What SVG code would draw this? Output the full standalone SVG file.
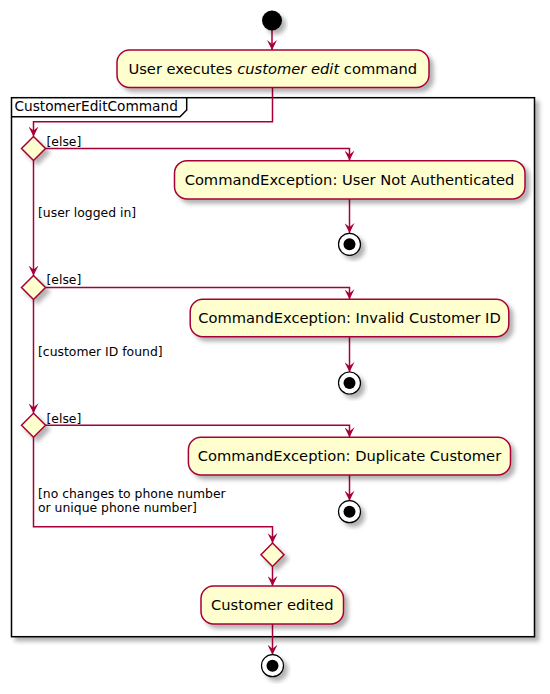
<svg xmlns="http://www.w3.org/2000/svg" width="550" height="694" viewBox="0 0 550 694">
<style>
.node{fill:#FEFECE;stroke:#A80036;stroke-width:1.5}
.dia{fill:#FEFECE;stroke:#A80036;stroke-width:1.5}
.bt{font-family:"DejaVu Sans",sans-serif;font-size:14.7px;fill:#000;text-anchor:middle}
.lb{font-family:"DejaVu Sans",sans-serif;font-size:12.4px;fill:#000}
.fl{font-family:"DejaVu Sans",sans-serif;font-size:13.7px;fill:#000}
.cn{fill:none;stroke:#A80036;stroke-width:1.5;marker-end:url(#arr)}
.stopo{fill:#fff;stroke:#000;stroke-width:1.2}
</style>
<defs>
<filter id="sh" x="-20%" y="-20%" width="150%" height="150%">
<feGaussianBlur in="SourceAlpha" stdDeviation="2"/>
<feOffset dx="4" dy="4" result="o"/>
<feFlood flood-color="#000" flood-opacity="0.3"/>
<feComposite in2="o" operator="in"/>
<feMerge><feMergeNode/><feMergeNode in="SourceGraphic"/></feMerge>
</filter>
<marker id="arr" viewBox="0 0 10 10" refX="10" refY="5" markerWidth="10" markerHeight="10" markerUnits="userSpaceOnUse" orient="auto">
<path d="M0,0 L10,5 L0,10 L4,5 Z" fill="#A80036"/>
</marker>
</defs>
<rect width="550" height="694" fill="#fff"/>
<g id="frame">
<rect x="11.5" y="97.7" width="523" height="539" fill="#fff" stroke="#000" stroke-width="1.5" filter="url(#sh)"/>
<path d="M11.5,116.7 L180,116.7 L186.7,110 L186.7,97.7" fill="none" stroke="#000" stroke-width="1.5"/>
<text class="fl" x="14.5" y="111">CustomerEditCommand</text>
</g>
<g id="connectors">
<path class="cn" d="M272,30 L272,50"/>
<path class="cn" d="M272.5,87.5 L272.5,121.7 L33.5,121.7 L33.5,136.5"/>
<path class="cn" d="M45.5,148.5 L349.5,148.5 L349.5,160.5"/>
<path class="cn" d="M349.5,199 L349.5,233"/>
<path class="cn" d="M33.5,160.5 L33.5,275.5"/>
<path class="cn" d="M45.5,287.5 L349.5,287.5 L349.5,299.3"/>
<path class="cn" d="M349.5,336.7 L349.5,372"/>
<path class="cn" d="M33.5,299.5 L33.5,413.3"/>
<path class="cn" d="M45.5,425.3 L349.5,425.3 L349.5,437.3"/>
<path class="cn" d="M349.5,475 L349.5,500.7"/>
<path class="cn" d="M33.5,437.3 L33.5,526.7 L272.5,526.7 L272.5,543"/>
<path class="cn" d="M272.5,566.5 L272.5,586"/>
<path class="cn" d="M272.5,624 L272.5,654.7"/>
<text class="lb" x="46.5" y="146">[else]</text>
<text class="lb" x="38" y="216.5">[user logged in]</text>
<text class="lb" x="46.5" y="283.5">[else]</text>
<text class="lb" x="38" y="355.7">[customer ID found]</text>
<text class="lb" x="46.5" y="422.7">[else]</text>
<text class="lb" x="38" y="497.7">[no changes to phone number</text>
<text class="lb" x="38" y="511.7">or unique phone number]</text>
</g>
<g id="start" filter="url(#sh)"><circle cx="272" cy="20.5" r="10" fill="#000"/></g>
<g id="userExecutes" filter="url(#sh)">
<rect class="node" x="117" y="50" width="312" height="37.5" rx="12.5"/>
</g>
<text class="bt" x="272.8" y="74">User executes <tspan font-style="italic">customer edit</tspan> command</text>
<g id="decision1" filter="url(#sh)"><polygon class="dia" points="33.5,136.5 45.5,148.5 33.5,160.5 21.5,148.5"/></g>
<g id="notAuthenticated">
<rect class="node" x="174.5" y="160.7" width="350.5" height="38.3" rx="12.5" filter="url(#sh)"/>
<text class="bt" x="349.5" y="185">CommandException: User Not Authenticated</text>
</g>
<g id="stop1" filter="url(#sh)"><circle class="stopo" cx="349.5" cy="244.3" r="11"/><circle cx="349.5" cy="244.3" r="6" fill="#000"/></g>
<g id="decision2" filter="url(#sh)"><polygon class="dia" points="33.5,275.5 45.5,287.5 33.5,299.5 21.5,287.5"/></g>
<g id="invalidId">
<rect class="node" x="190.2" y="299.3" width="318.6" height="37.4" rx="12.5" filter="url(#sh)"/>
<text class="bt" x="349.5" y="323.3">CommandException: Invalid Customer ID</text>
</g>
<g id="stop2" filter="url(#sh)"><circle class="stopo" cx="349.5" cy="383" r="11"/><circle cx="349.5" cy="383" r="6" fill="#000"/></g>
<g id="decision3" filter="url(#sh)"><polygon class="dia" points="33.5,413.3 45.5,425.3 33.5,437.3 21.5,425.3"/></g>
<g id="duplicate">
<rect class="node" x="188.4" y="437.3" width="322.1" height="37.7" rx="12.5" filter="url(#sh)"/>
<text class="bt" x="349.5" y="461.3">CommandException: Duplicate Customer</text>
</g>
<g id="stop3" filter="url(#sh)"><circle class="stopo" cx="349.5" cy="511.7" r="11"/><circle cx="349.5" cy="511.7" r="6" fill="#000"/></g>
<g id="merge" filter="url(#sh)"><polygon class="dia" points="272.5,543 284,554.7 272.5,566.5 261,554.7"/></g>
<g id="customerEdited">
<rect class="node" x="201" y="586" width="142.5" height="38" rx="12.5" filter="url(#sh)"/>
<text class="bt" x="272.3" y="610">Customer edited</text>
</g>
<g id="stop4" filter="url(#sh)"><circle class="stopo" cx="272.5" cy="665.7" r="11"/><circle cx="272.5" cy="665.7" r="6" fill="#000"/></g>
</svg>
